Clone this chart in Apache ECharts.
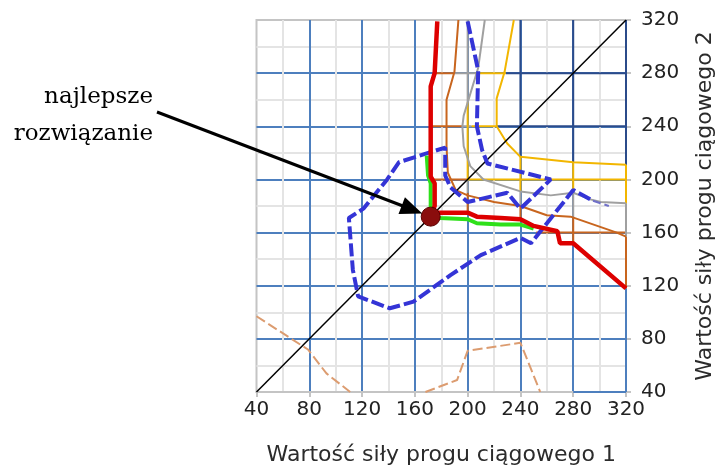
<!DOCTYPE html>
<html>
<head>
<meta charset="utf-8">
<script src="https://cdn.jsdelivr.net/npm/echarts@6/dist/echarts.min.js"></script>
<style>
  html, body { margin: 0; padding: 0; background: #fff; }
  #chart { width: 720px; height: 476px; }
</style>
</head>
<body>
<div id="chart"></div>
<script>
// axis ticks (both axes)
const axisTicks = [40, 80, 120, 160, 200, 240, 280, 320];

// contour lines, [x, y]
const redLine = [[177,319],[175,280],[172,270],[172,202],[175,197],[175,180],[173,175],[178,175],[200,175],[207,172],[225,171],[240,170],[250,165],[268,161],[270,152],[280,152],[320,118]];
const greenLine = [[169,218],[170,203],[172,197],[172,173],[179,171],[200,170],[207,167],[225,166],[240,166],[250,163]];
const blueLine = [[200,319],[208,282],[207,240],[211,222],[215,212],[263,200],[240,178],[230,190],[200,183],[187,194],[183,203],[183,224],[148,213],[139,200],[121,178],[110,171],[113,132],[117,112],[141,103],[159,108],[187,128],[210,143],[240,156],[248,152],[280,192],[295,184]];
const blueTail = [[295,184],[307,180]];
const orangeLine = [[193,320],[190,281],[184,260],[184,240],[184,225],[185,205],[191,192],[200,188],[220,183],[240,180],[260,173],[278,172],[313,160],[320,157]];
const grayLine = [[213,320],[208,284],[197,248],[196,240],[197,225],[202,210],[212,200],[240,191],[263,188],[280,190],[293,185],[301,183],[320,182]];
const yellowLine = [[235,320],[228,281],[222,261],[222,240],[230,227],[240,217],[280,213],[320,211]];
const lowLineA = [[40,97],[79,72],[93,54],[111,40]];
const lowLineB = [[168,40],[192,49],[200,71],[240,77],[255,40]];
const diagonal = [[40,40],[320,320]];
const bestPoint = [[172,172]];

// wireframe pieces coloured by band
const orangeGrid = [[[174,280],[189,280]],[[172,240],[196,240]],[[174,200],[200,200]],[[252,160],[320,160]],[[200,175],[200,190]],[[240,170],[240,180]],[[280,152],[280,172]],[[320,118],[320,157]]];
const grayGrid = [[[189,280],[206,280]],[[196,240],[203,240]],[[200,190],[200,200]],[[200,258],[200,320]],[[240,180],[240,191]],[[280,172],[280,190]],[[320,157],[320,182]]];
const yellowGrid = [[[206,280],[229,280]],[[203,240],[222,240]],[[200,200],[320,200]],[[200,200],[200,258]],[[240,191],[240,217]],[[280,190],[280,213]],[[320,182],[320,211]]];
const navyGrid = [[[229,280],[320,280]],[[222,240],[320,240]],[[240,217],[240,320]],[[280,213],[280,320]],[[320,211],[320,320]]];
const steelEdge = [[[280,40],[320,40]],[[320,40],[320,118]]];

const steel = '#4d7fbe';

function segs(list) {
  const out = [];
  list.forEach(function (s, i) {
    if (i) out.push(['-', '-']);
    out.push(s[0], s[1]);
  });
  return out;
}

function line(data, color, width, z, type) {
  return {
    type: 'line',
    data: data,
    symbol: 'none',
    silent: true,
    z: z,
    lineStyle: { color: color, width: width, type: type || 'solid', cap: 'butt' }
  };
}

const chart = echarts.init(document.getElementById('chart'));

chart.setOption({
  animation: false,
  grid: {
    left: 256.5, right: 94, top: 20, bottom: 84,
    containLabel: false,
    outerBoundsMode: 'none',
    show: true, borderColor: '#c4c4c4', borderWidth: 2
  },
  xAxis: {
    type: 'value',
    min: axisTicks[0],
    max: axisTicks[axisTicks.length - 1],
    interval: 40,
    name: 'Wartość siły progu ciągowego 1',
    nameLocation: 'middle',
    nameGap: 52,
    nameTextStyle: { fontFamily: 'DejaVu Sans', fontSize: 22, color: '#2b2b2b' },
    axisLine: { show: true, lineStyle: { color: '#c4c4c4', width: 2 } },
    axisTick: { show: true, length: 5, lineStyle: { color: '#c4c4c4', width: 2 } },
    axisLabel: { margin: 8, fontFamily: 'DejaVu Sans', fontSize: 20, color: '#222' },
    splitLine: { show: true, showMinLine: false, showMaxLine: false, lineStyle: { color: steel, width: 2 } },
    minorTick: { show: false, splitNumber: 2 },
    minorSplitLine: { show: true, lineStyle: { color: '#e4e4e4', width: 2 } }
  },
  yAxis: {
    type: 'value',
    position: 'right',
    min: axisTicks[0],
    max: axisTicks[axisTicks.length - 1],
    interval: 40,
    name: 'Wartość siły progu ciągowego 2',
    nameLocation: 'middle',
    nameRotate: 90,
    nameGap: 68,
    nameTextStyle: { fontFamily: 'DejaVu Sans', fontSize: 22, color: '#2b2b2b' },
    axisLine: { show: true, lineStyle: { color: '#c4c4c4', width: 2 } },
    axisTick: { show: true, length: 5, lineStyle: { color: '#c4c4c4', width: 2 } },
    axisLabel: { margin: 15, fontFamily: 'DejaVu Sans', fontSize: 20, color: '#222' },
    splitLine: { show: true, showMinLine: false, showMaxLine: false, lineStyle: { color: steel, width: 2 } },
    minorTick: { show: false, splitNumber: 2 },
    minorSplitLine: { show: true, lineStyle: { color: '#e4e4e4', width: 2 } }
  },
  series: [
    line(segs(steelEdge), steel, 2, 1),
    line(segs(navyGrid), '#2b4b8a', 2, 1),
    line(segs(orangeGrid), '#c8651e', 2, 1),
    line(segs(grayGrid), '#a0a0a0', 2, 1),
    line(segs(yellowGrid), '#f2b600', 2, 1),
    line(lowLineA, '#dc9c70', 2, 3, [10, 4]),
    line(lowLineB, '#dc9c70', 2, 3, [10, 4]),
    line(yellowLine, '#f2b600', 2, 3),
    line(grayLine, '#a0a0a0', 2, 3),
    line(orangeLine, '#c8651e', 2, 3),
    line(diagonal, '#000', 1.5, 4),
    line(blueTail, '#7070c8', 2, 4, [8, 4]),
    line(blueLine, '#3434d6', 4, 5, [13, 4]),
    line(greenLine, '#2ee01a', 4, 6),
    line(redLine, '#dd0000', 4.5, 7),
    {
      type: 'scatter',
      data: bestPoint,
      symbolSize: 19,
      silent: true,
      z: 10,
      itemStyle: { color: '#8a0d0d', borderColor: '#5c0000', borderWidth: 1, opacity: 1 }
    }
  ]
});

// arrow from the label to the best point
const tipBase = chart.convertToPixel({ gridIndex: 0 }, bestPoint[0]);
const start = [157, 112];
const dx = tipBase[0] - start[0], dy = tipBase[1] - start[1];
const len = Math.sqrt(dx * dx + dy * dy);
const ux = dx / len, uy = dy / len;
const tip = [tipBase[0] - ux * 9, tipBase[1] - uy * 9];
const back = [tip[0] - ux * 22, tip[1] - uy * 22];
const px = -uy, py = ux;

chart.setOption({
  graphic: [
    {
      type: 'text',
      x: 153, y: 79,
      z: 100,
      style: {
        text: 'najlepsze\nrozwiązanie',
        align: 'right',
        verticalAlign: 'top',
        font: '23px "DejaVu Serif"',
        lineHeight: 37,
        fill: '#000'
      }
    },
    {
      type: 'line',
      z: 100,
      shape: { x1: start[0], y1: start[1], x2: back[0] + ux * 2, y2: back[1] + uy * 2 },
      style: { stroke: '#000', lineWidth: 3 }
    },
    {
      type: 'polygon',
      z: 100,
      shape: { points: [tip, [back[0] + px * 9, back[1] + py * 9], [back[0] - px * 9, back[1] - py * 9]] },
      style: { fill: '#000' }
    }
  ]
});
</script>
</body>
</html>
